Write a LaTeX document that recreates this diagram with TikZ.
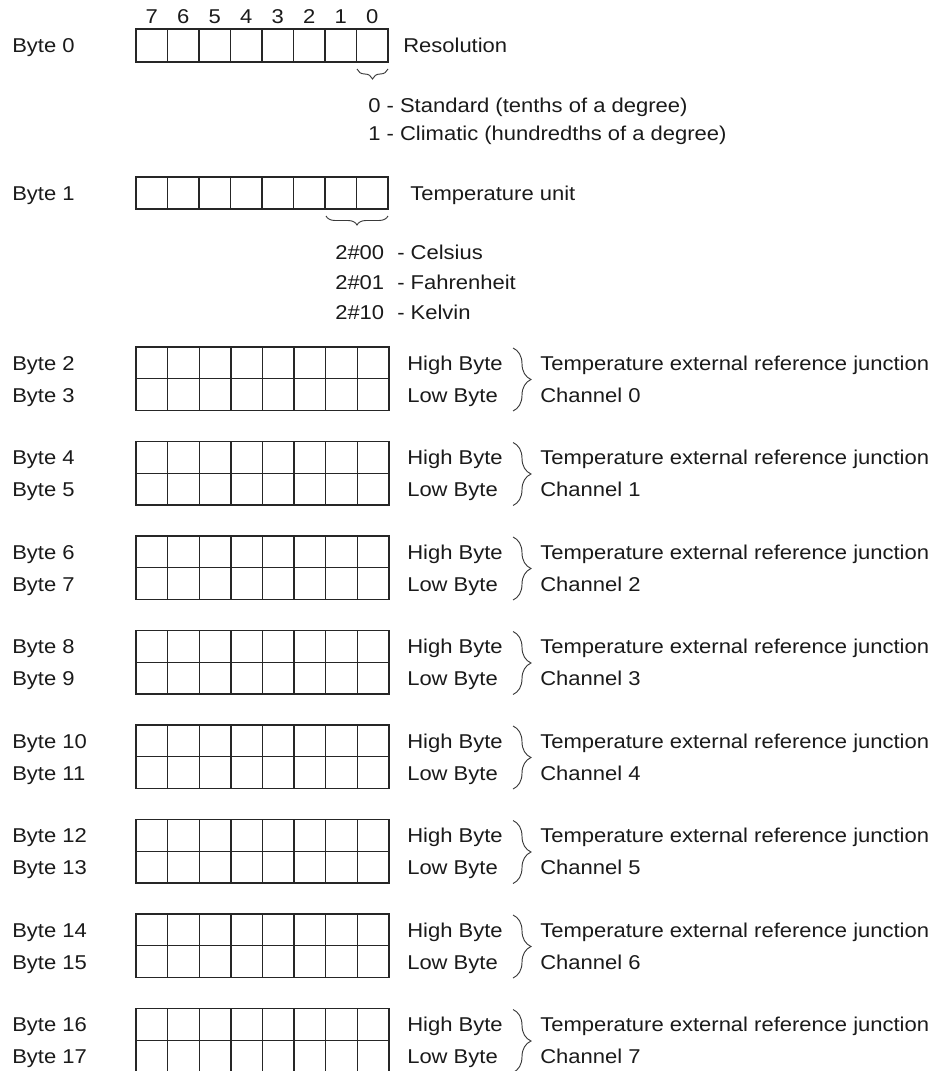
\documentclass[tikz,border=0pt]{standalone}
\usepackage{fontspec}
\setmainfont[FakeStretch=1.1]{Liberation Sans}
\usetikzlibrary{decorations.pathreplacing}
\definecolor{ink}{HTML}{1A1A1A}
\definecolor{gridc}{HTML}{262626}
\definecolor{bracec}{HTML}{3A3A3A}
\begin{document}
\begin{tikzpicture}[x=0.75pt,y=-0.75pt,
  lbl/.style={anchor=base west, inner sep=0pt, font=\fontsize{15}{18}\selectfont, text=ink},
  bitno/.style={anchor=base, inner sep=0pt, font=\fontsize{15}{18}\selectfont, text=ink},
  gridline/.style={draw=gridc, line width=1.1pt},
  rbrace/.style={draw=bracec, line width=0.7pt, decorate, decoration={brace, amplitude=13.5pt}},
  ubrace/.style={draw=bracec, line width=0.7pt, decorate, decoration={brace, amplitude=#1}}]
\useasboundingbox (0,0) rectangle (936,1071);

% ---- Byte 0 ----
\foreach \i in {0,...,7}{
  \pgfmathtruncatemacro\bit{7-\i}
  \node[bitno] (bit\bit) at (136+31.5*\i+15.75, 23.5) {\bit};
}
\draw[gridline] (136,29) rectangle (388,62);
\foreach \i in {1,...,7}{ \draw[gridline] (136+31.5*\i,29) -- (136+31.5*\i,62); }
\node[lbl] (b0) at (12,52.5) {Byte 0};
\node[lbl] (res) at (403,52.5) {Resolution};
\coordinate (u0a) at (388,69);
\coordinate (u0b) at (357,69);
\draw[ubrace=7.5pt] (u0a) -- (u0b);
\node[lbl] (res0) at (368,112) {0 - Standard (tenths of a degree)};
\node[lbl] (res1) at (368,140) {1 - Climatic (hundredths of a degree)};

% ---- Byte 1 ----
\draw[gridline] (136,177) rectangle (388,209);
\foreach \i in {1,...,7}{ \draw[gridline] (136+31.5*\i,177) -- (136+31.5*\i,209); }
\node[lbl] (b1) at (12,200) {Byte 1};
\node[lbl] (tu) at (410,200) {Temperature unit};
\coordinate (u1a) at (388,216);
\coordinate (u1b) at (326,216);
\draw[ubrace=6.75pt] (u1a) -- (u1b);
\node[lbl] (c0) at (335,259) {2\#00};
\node[lbl] (c0t) at (397,259) {- Celsius};
\node[lbl] (c1) at (335,289) {2\#01};
\node[lbl] (c1t) at (397,289) {- Fahrenheit};
\node[lbl] (c2) at (335,319) {2\#10};
\node[lbl] (c2t) at (397,319) {- Kelvin};

% ---- Byte pairs ----
\foreach \k in {0,...,7}{
  \pgfmathsetmacro\T{347+94.5*\k}
  \pgfmathtruncatemacro\ha{2*\k+2}
  \pgfmathtruncatemacro\lb{2*\k+3}
  \draw[gridline] (136,\T) rectangle (389,\T+63.5);
  \draw[gridline] (136,\T+31.75) -- (389,\T+31.75);
  \foreach \i in {1,...,7}{ \draw[gridline] (136+31.625*\i,\T) -- (136+31.625*\i,\T+63.5); }
  \node[lbl] (bh\k) at (12,\T+23) {Byte \ha};
  \node[lbl] (bl\k) at (12,\T+55) {Byte \lb};
  \node[lbl] (hb\k) at (407,\T+23) {High Byte};
  \node[lbl] (lo\k) at (407,\T+55) {Low Byte};
  \coordinate (rt\k) at (513,\T+1);
  \coordinate (rb\k) at (513,\T+64);
  \draw[rbrace] (rt\k) -- (rb\k);
  \node[lbl] (te\k) at (540,\T+23) {Temperature external reference junction};
  \node[lbl] (ch\k) at (540,\T+55) {Channel \k};
}
\end{tikzpicture}
\end{document}
